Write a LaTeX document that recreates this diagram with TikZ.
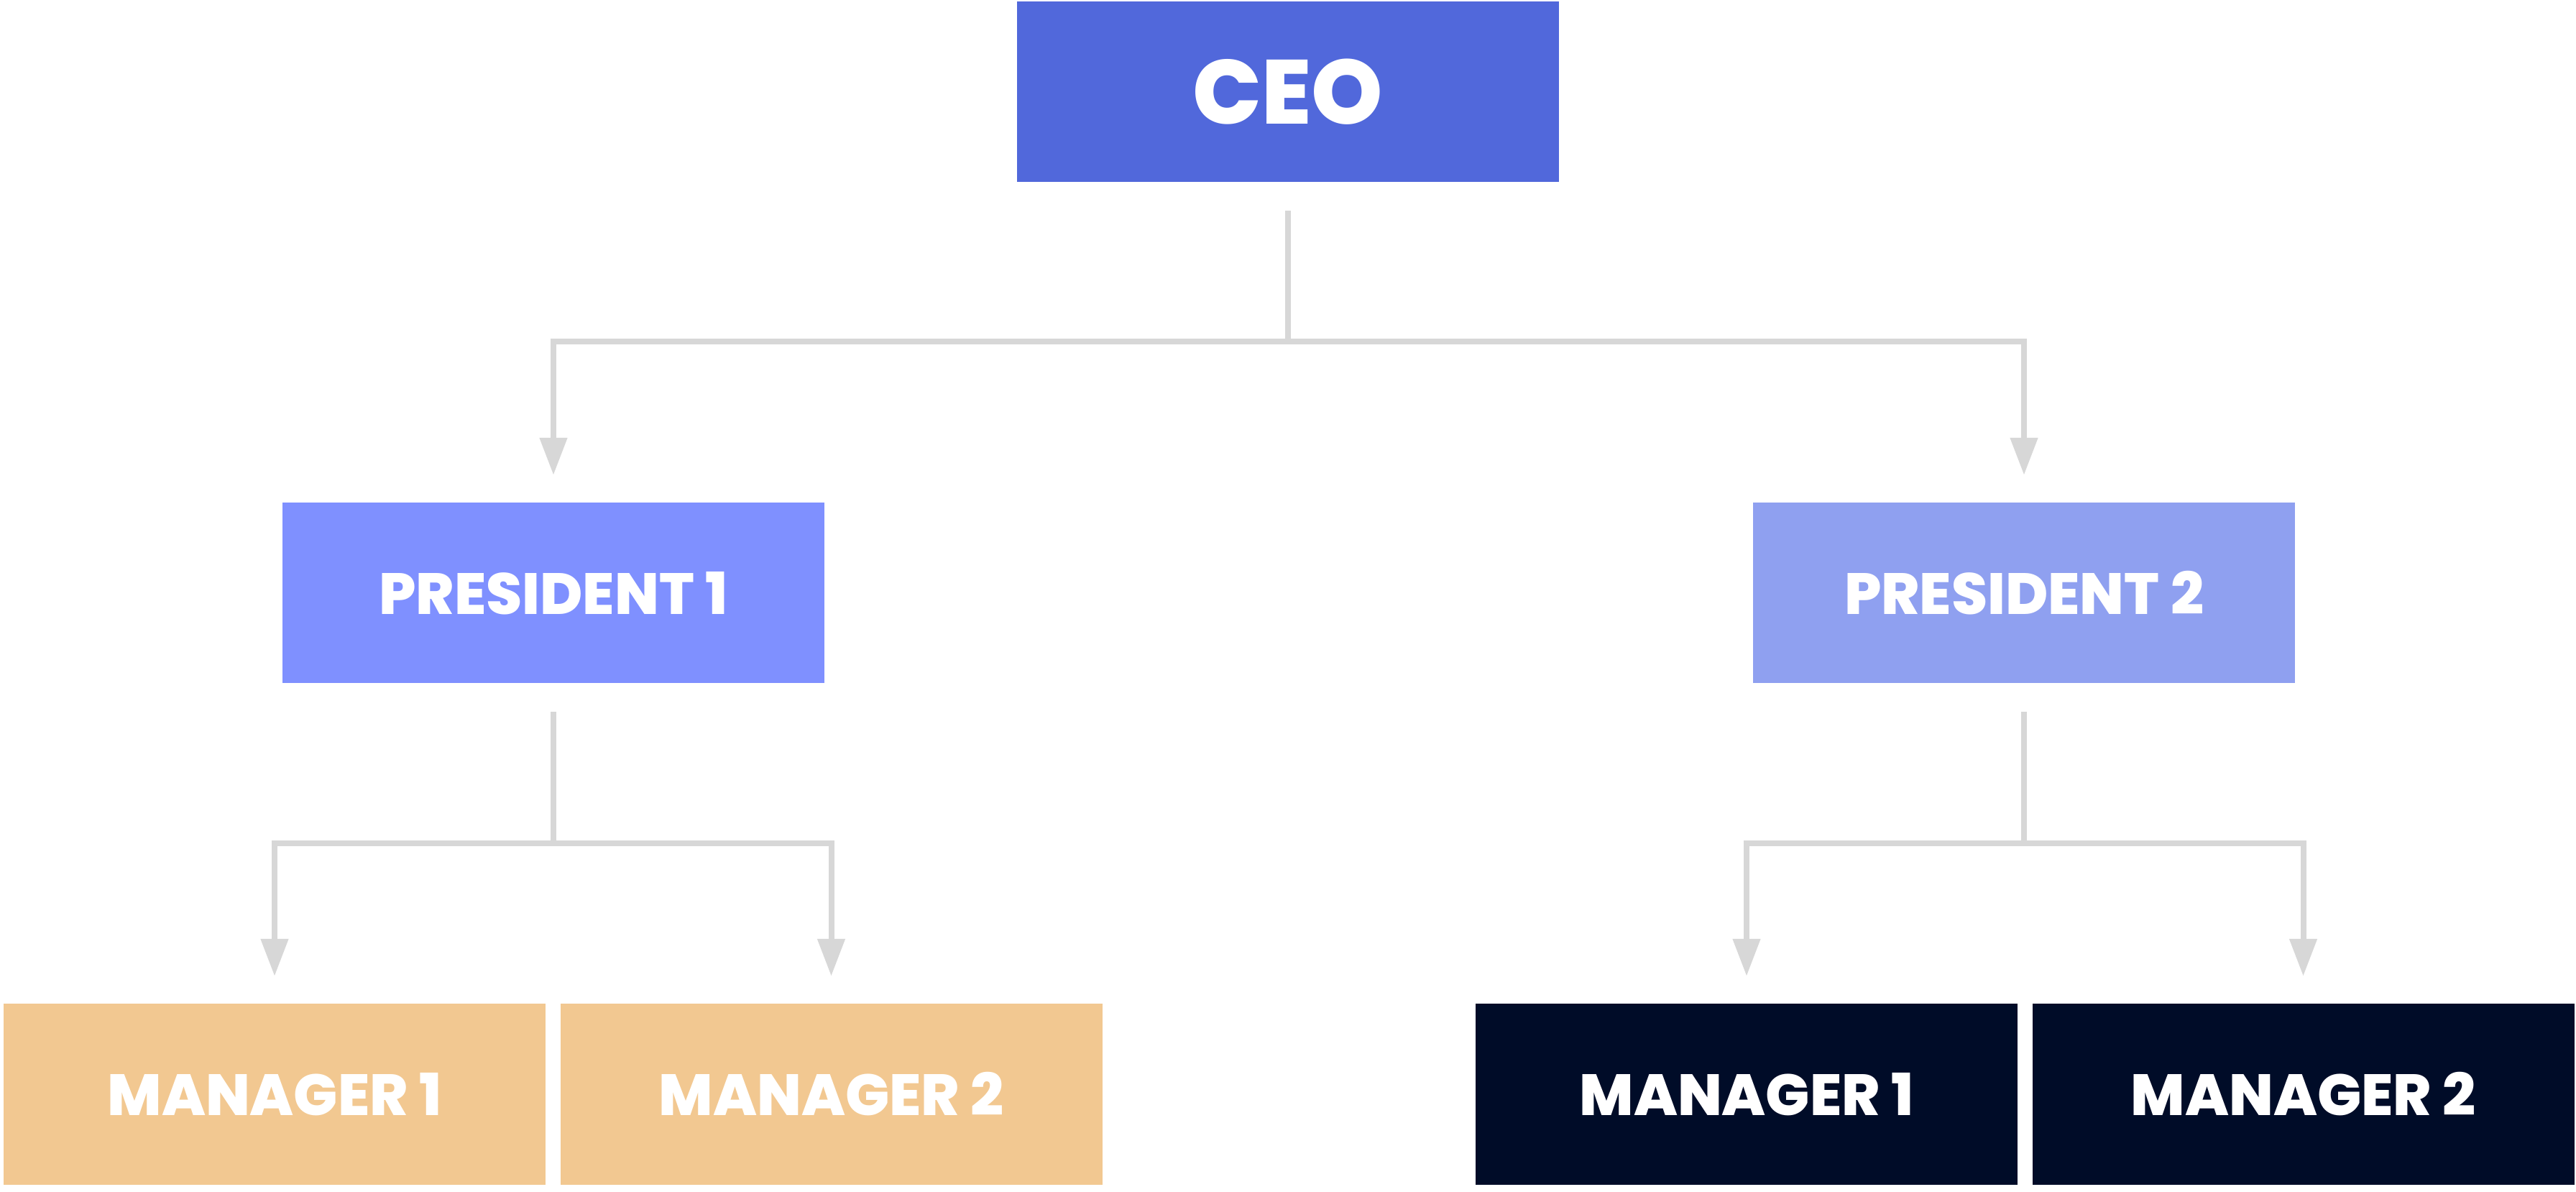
\documentclass[tikz,border=0pt]{standalone}
\usepackage{fontspec}
\setmainfont{Poppins}[BoldFont={Poppins ExtraBold}]
\usepackage{xcolor}
\usepackage{tikz}
\usetikzlibrary{calc}
\usetikzlibrary{positioning}
\usetikzlibrary{arrows.meta}
\definecolor{ceoblue}{RGB}{81,104,219}
\definecolor{presblue}{RGB}{127,144,255}
\definecolor{presgrey}{RGB}{143,160,240}
\definecolor{mgrsand}{RGB}{242,200,145}
\definecolor{mgrnavy}{RGB}{0,12,40}
\definecolor{linkgrey}{RGB}{215,215,215}
\tikzset{
  mybox/.style={
    shape=rectangle,
    draw=none,
    text=white,
    align=center,
    inner sep=0pt,
    minimum width=7.54cm,
    minimum height=2.51cm,
    font=\bfseries\fontsize{23}{26}\selectfont
  },
  myceo/.style={
    mybox,
    fill=ceoblue,
    font=\bfseries\fontsize{36}{40}\selectfont
  },
  mylink/.style={
    draw=linkgrey,
    line width=0.08cm,
    -{Triangle[width=0.37cm,length=0.52cm]},
    shorten <=0.39cm,
    shorten >=0.38cm,
  },
}

\begin{document}
\begin{tikzpicture}
    \useasboundingbox (0,0) rectangle (35.84,-16.58);

    \node[myceo] (ceo) at (17.92,-1.28) {CEO};

    \node[mybox, fill=presblue] (pres1) at ( 7.70,-8.25) {PRESIDENT 1};
    \node[mybox, fill=presgrey] (pres2) at (28.16,-8.25) {PRESIDENT 2};

    \node[mybox, fill=mgrsand] (mgrA) at ( 3.82,-15.22) {MANAGER 1};
    \node[mybox, fill=mgrsand] (mgrB) at (11.565,-15.22) {MANAGER 2};
    \node[mybox, fill=mgrnavy] (mgrC) at (24.30,-15.22) {MANAGER 1};
    \node[mybox, fill=mgrnavy] (mgrD) at (32.045,-15.22) {MANAGER 2};

    \draw[mylink] (ceo.south) -- ++(0,-2.21) -| (pres1.north);
    \draw[mylink] (ceo.south) -- ++(0,-2.21) -| (pres2.north);

    \foreach \src/\dst in {pres1/mgrA, pres1/mgrB, pres2/mgrC, pres2/mgrD}
      \draw[mylink] (\src.south) -- ++(0,-2.22) -| (\dst.north);
\end{tikzpicture}
\end{document}
